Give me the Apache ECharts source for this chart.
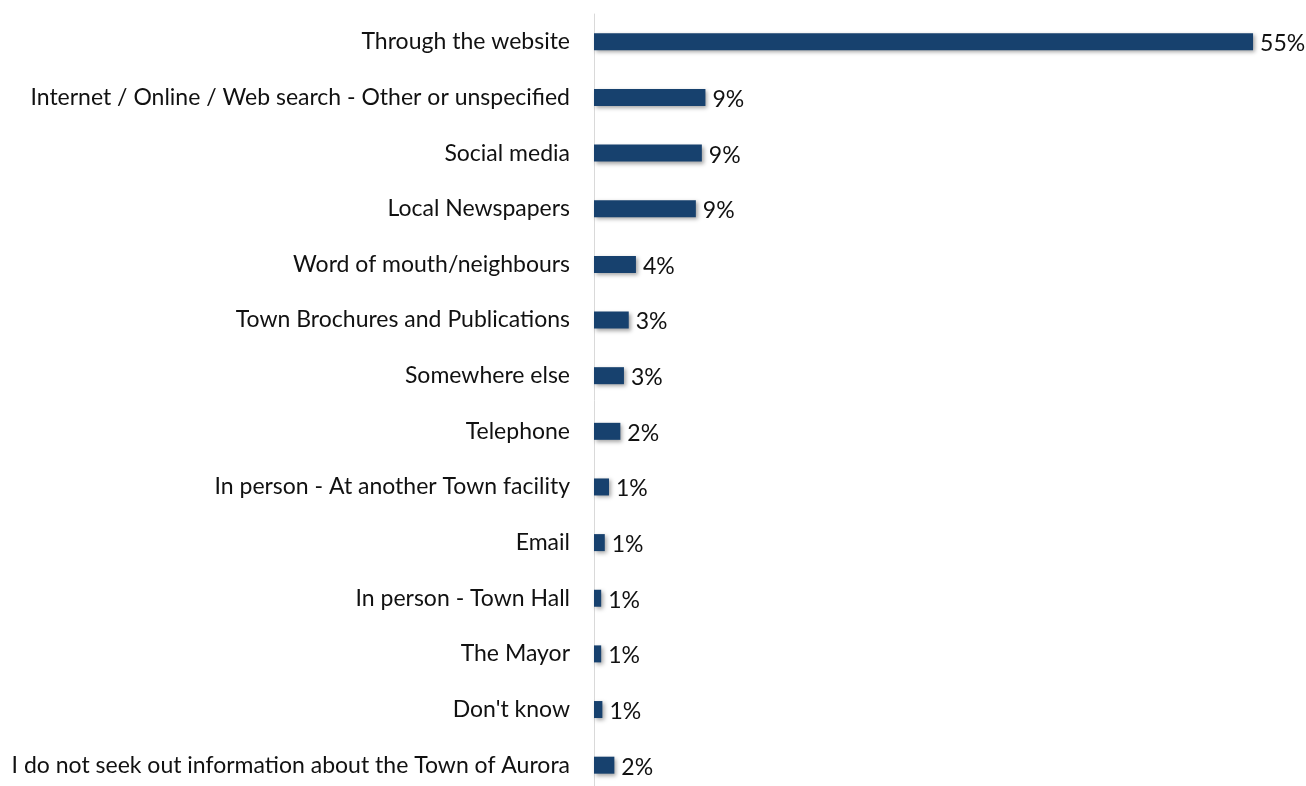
<!DOCTYPE html>
<html>
<head>
<meta charset="utf-8">
<script src="https://cdn.jsdelivr.net/npm/echarts@6/dist/echarts.min.js"></script>
<style>
  html, body { margin: 0; padding: 0; background: #fff; }
  #chart { width: 1306px; height: 786px; }
</style>
</head>
<body>
<div id="chart"></div>
<script>
// Where residents look for information about the Town (share of responses, %)
const categories = [
  'Through the website',
  'Internet / Online / Web search - Other or unspecified',
  'Social media',
  'Local Newspapers',
  'Word of mouth/neighbours',
  'Town Brochures and Publications',
  'Somewhere else',
  'Telephone',
  'In person - At another Town facility',
  'Email',
  'In person - Town Hall',
  'The Mayor',
  "Don't know",
  'I do not seek out information about the Town of Aurora'
];
const shares = [55.0, 9.3, 9.0, 8.5, 3.5, 2.9, 2.5, 2.2, 1.25, 0.9, 0.6, 0.6, 0.7, 1.7];

const chart = echarts.init(document.getElementById('chart'));
const fontFamily = 'Lato, "Open Sans", sans-serif';

chart.setOption({
  animation: false,
  grid: {
    left: 594, width: 695, top: 14, height: 779,
    containLabel: false,
    outerBoundsMode: 'none'
  },
  xAxis: {
    type: 'value',
    min: 0,
    max: 58,
    show: false
  },
  yAxis: {
    type: 'category',
    data: categories,
    inverse: true,
    axisLine: { show: true, lineStyle: { color: '#d9d9d9', width: 1 } },
    axisTick: { show: false },
    axisLabel: {
      margin: 24,
      color: '#111111',
      fontSize: 23,
      fontFamily: fontFamily
    }
  },
  series: [{
    type: 'bar',
    data: shares,
    barWidth: 17,
    itemStyle: {
      color: '#17416e',
      shadowColor: 'rgba(0,0,0,0.35)',
      shadowBlur: 4,
      shadowOffsetX: 2,
      shadowOffsetY: 2
    },
    label: {
      show: true,
      position: 'right',
      distance: 7,
      offset: [0, 2],
      color: '#111111',
      fontSize: 23,
      fontFamily: fontFamily,
      formatter: p => Math.round(p.value) + '%'
    }
  }]
});
</script>
</body>
</html>
